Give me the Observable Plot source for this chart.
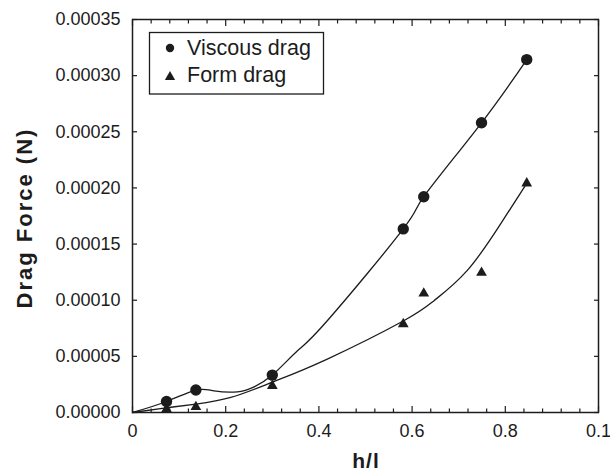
<!DOCTYPE html>
<html>
<head>
<meta charset="utf-8">
<script src="https://cdn.jsdelivr.net/npm/d3@7"></script>
<script src="https://cdn.jsdelivr.net/npm/@observablehq/plot@0.6"></script>
<style>
  html, body { margin: 0; padding: 0; background: #fff; }
  #chart { width: 610px; height: 476px; }
</style>
</head>
<body>
<div id="chart"></div>
<script>
// Drag force components against relative depth h/l
const hl = [0.073, 0.136, 0.300, 0.581, 0.625, 0.749, 0.846];
const viscousDrag = [0.0000098, 0.0000200, 0.0000333, 0.0001635, 0.0001922, 0.0002580, 0.0003143];
const formDrag = [0.0000030, 0.0000050, 0.0000238, 0.0000788, 0.0001060, 0.0001245, 0.0002041];

// Smoothed trend curves, both starting at the origin
const viscousFitHl = [0, 0.073, 0.136, 0.175, 0.225, 0.261, 0.300, 0.354, 0.418, 0.581, 0.625, 0.749, 0.846];
const viscousFit = [0, 0.0000098, 0.0000200, 0.0000193, 0.0000184, 0.0000229, 0.0000333, 0.0000550,
                    0.0000817, 0.0001635, 0.0001922, 0.0002580, 0.0003143];
const formFitHl = [0, 0.068, 0.136, 0.211, 0.300, 0.418, 0.581, 0.647, 0.718, 0.790, 0.846];
const formFit = [0, 0.0000039, 0.0000075, 0.0000134, 0.0000270, 0.0000476, 0.0000815, 0.0000996,
                 0.0001263, 0.0001680, 0.0002041];

// Axis ticks and their labels
const xTicks = [0, 0.2, 0.4, 0.6, 0.8, 1.0];
const xTickLabels = ["0", "0.2", "0.4", "0.6", "0.8", "0.1"];
const xMinorTicks = [0.04, 0.08, 0.12, 0.16, 0.24, 0.28, 0.32, 0.36, 0.44, 0.48, 0.52, 0.56,
                     0.64, 0.68, 0.72, 0.76, 0.84, 0.88, 0.92, 0.96];
const yTicks = [0, 0.00005, 0.00010, 0.00015, 0.00020, 0.00025, 0.00030, 0.00035];
const yTickLabels = ["0.00000", "0.00005", "0.00010", "0.00015", "0.00020", "0.00025", "0.00030", "0.00035"];

const seriesNames = ["Viscous drag", "Form drag"];

const points = hl.map((x, i) => ({x, viscous: viscousDrag[i], form: formDrag[i]}));
const viscousCurve = viscousFitHl.map((x, i) => ({x, y: viscousFit[i]}));
const formCurve = formFitHl.map((x, i) => ({x, y: formFit[i]}));

const ink = "#1c1c1c";
const font = "'Liberation Sans', Arial, Helvetica, sans-serif";

const chart = Plot.plot({
  width: 610,
  height: 476,
  marginLeft: 132,
  marginRight: 12,
  marginTop: 19,
  marginBottom: 64,
  style: {fontFamily: font, fontSize: "18px", color: ink, background: "#fff", overflow: "visible"},
  x: {domain: [0, 1.0]},
  y: {domain: [0, 0.00035]},
  marks: [
    // tick labels
    Plot.axisX(xTicks, {tickSize: 0, tickPadding: 12, label: null,
      tickFormat: d => xTickLabels[xTicks.indexOf(d)]}),
    Plot.axisY(yTicks, {tickSize: 0, tickPadding: 12, label: null,
      tickFormat: d => yTickLabels[yTicks.indexOf(d)]}),
    // inward-pointing tick marks on all four sides
    Plot.axisX(xTicks, {anchor: "bottom", tickSize: 6, dy: -6, fill: "none", label: null, strokeWidth: 1.2}),
    Plot.axisX(xMinorTicks, {anchor: "bottom", tickSize: 3.5, dy: -3.5, fill: "none", label: null, strokeWidth: 1.2}),
    Plot.axisX(xTicks, {anchor: "top", tickSize: 6, dy: 6, fill: "none", label: null, strokeWidth: 1.2}),
    Plot.axisX(xMinorTicks, {anchor: "top", tickSize: 3.5, dy: 3.5, fill: "none", label: null, strokeWidth: 1.2}),
    Plot.axisY(yTicks, {anchor: "left", tickSize: 5, dx: 5, fill: "none", label: null, strokeWidth: 1.2}),
    Plot.axisY(yTicks, {anchor: "right", tickSize: 5, dx: -5, fill: "none", label: null, strokeWidth: 1.2}),
    Plot.frame({stroke: ink, strokeWidth: 1.5}),
    // trend curves
    Plot.line(viscousCurve, {x: "x", y: "y", curve: "natural", stroke: ink, strokeWidth: 1.3}),
    Plot.line(formCurve, {x: "x", y: "y", curve: "natural", stroke: ink, strokeWidth: 1.3}),
    // measured points
    Plot.dot(points, {x: "x", y: "viscous", r: 5.7, symbol: "circle", fill: ink, stroke: "none"}),
    Plot.dot(points, {x: "x", y: "form", r: 4, symbol: "triangle", fill: ink, stroke: "none"})
  ]
});

const svg = d3.select(chart);

// axis titles
svg.append("text")
  .attr("transform", "translate(32,218) rotate(-90)")
  .attr("text-anchor", "middle")
  .attr("font-family", font)
  .attr("font-weight", "bold")
  .attr("font-size", 22)
  .attr("letter-spacing", 2)
  .attr("fill", ink)
  .text("Drag Force (N)");

svg.append("text")
  .attr("x", 366)
  .attr("y", 468)
  .attr("text-anchor", "middle")
  .attr("font-family", font)
  .attr("font-weight", "bold")
  .attr("font-size", 21)
  .attr("letter-spacing", 1)
  .attr("fill", ink)
  .text("h/l");

// legend box
const legend = svg.append("g").attr("text-anchor", "start");
legend.append("rect")
  .attr("x", 149.5).attr("y", 32.5).attr("width", 174).attr("height", 61.5)
  .attr("fill", "#fff").attr("stroke", ink).attr("stroke-width", 1.3);
legend.append("circle").attr("cx", 170).attr("cy", 48).attr("r", 4.2).attr("fill", ink);
legend.append("path")
  .attr("transform", "translate(170,77)")
  .attr("d", d3.symbol(d3.symbolTriangle, 46)())
  .attr("fill", ink);
seriesNames.forEach((name, i) => {
  legend.append("text")
    .attr("x", 187).attr("y", 55 + i * 26.5)
    .attr("text-anchor", "start")
    .attr("font-family", font).attr("font-size", 21.5).attr("fill", ink)
    .text(name);
});

document.getElementById("chart").appendChild(chart);
</script>
</body>
</html>
